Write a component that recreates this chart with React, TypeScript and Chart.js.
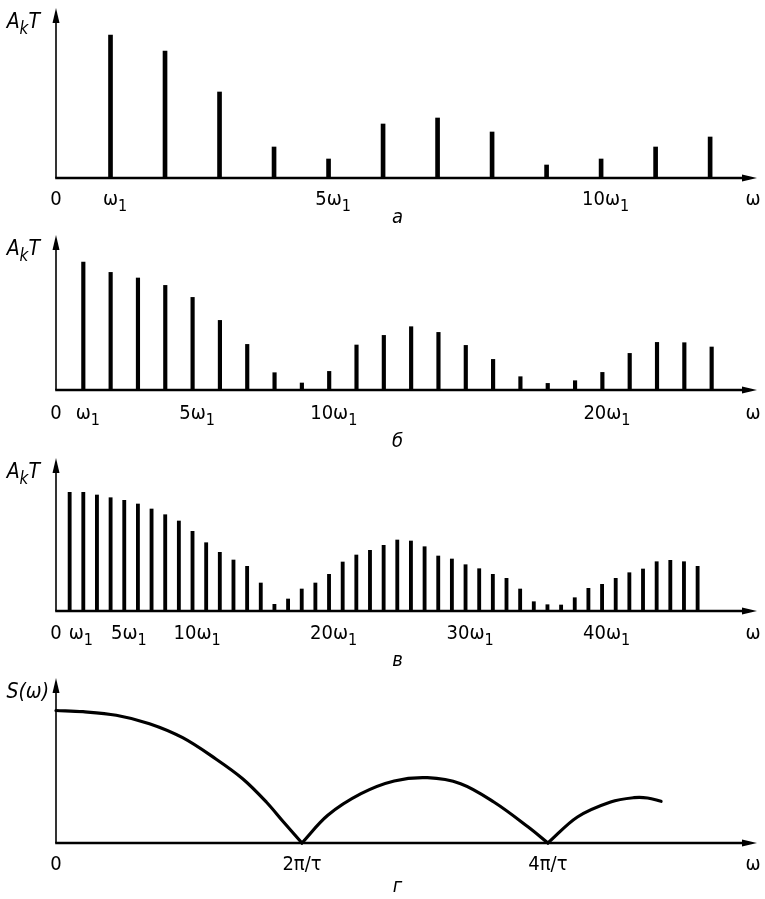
import React, { useEffect, useRef } from 'react';
import { Chart, registerables } from 'chart.js';

Chart.register(...registerables);

// ---------- Data ----------
// Panel а
const harmonicsA = [1, 2, 3, 4, 5, 6, 7, 8, 9, 10, 11, 12];
const amplitudesA = [143, 127, 86, 31, 19, 54, 60, 46, 13, 19, 31, 41];
const tickValuesA = [0, 1, 5, 10];
const tickLabelsA = ['0', 'ω_1', '5ω_1', '10ω_1'];

// Panel б
const harmonicsB = [1, 2, 3, 4, 5, 6, 7, 8, 9, 10, 11, 12, 13, 14, 15, 16, 17, 18, 19, 20, 21, 22, 23, 24];
const amplitudesB = [128, 117.6, 112, 104.6, 92.6, 69.6, 45.6, 17.3, 7, 18.6, 45, 54.6, 63.3, 57.6, 44.6, 30.6, 13.3, 6.6, 9.3, 17.6, 36.6, 47.6, 47.3, 43];
const tickValuesB = [0, 1, 5, 10, 20];
const tickLabelsB = ['0', 'ω_1', '5ω_1', '10ω_1', '20ω_1'];

// Panel в
const harmonicsC = [
  1, 2, 3, 4, 5, 6, 7, 8, 9, 10, 11, 12, 13, 14, 15, 16, 17, 18, 19, 20, 21, 22, 23, 24,
  25, 26, 27, 28, 29, 30, 31, 32, 33, 34, 35, 36, 37, 38, 39, 40, 41, 42, 43, 44, 45, 46, 47,
];
const amplitudesC = [
  118.7, 118.7, 116, 113.3, 110.7, 107, 102, 96.3, 90, 79.7, 68.3, 58.7, 51, 44.7, 28, 6.7,
  12, 22, 28, 36.7, 49, 56, 60.7, 65.7, 71, 70, 64.3, 55, 52, 46.3, 42.3, 36.7, 32.7, 22, 9.3,
  6.3, 6, 13.3, 22.7, 26.7, 32.7, 38.3, 42, 49.3, 50.7, 49.3, 44.7,
];
const tickValuesC = [0, 1, 5, 10, 20, 30, 40];
const tickLabelsC = ['0', 'ω_1', '5ω_1', '10ω_1', '20ω_1', '30ω_1', '40ω_1'];

// Panel г  (ω in units where 2π/τ = 2)
const lobe1X = [0, 0.22, 0.49, 0.76, 1.03, 1.3, 1.52, 1.71, 1.85, 2];
const lobe1Y = [132.5, 131.3, 127.7, 119.3, 105.3, 84, 64, 41, 21, 0];
const lobe2X = [2, 2.21, 2.48, 2.75, 3.02, 3.29, 3.56, 3.84, 4];
const lobe2Y = [0, 27.7, 49.3, 62, 65.3, 59.3, 41, 16, 0];
const lobe3X = [4, 4.24, 4.51, 4.7, 4.81, 4.92];
const lobe3Y = [0, 26, 41, 45.3, 45, 41.7];
const tickValuesD = [0, 2, 4];
const tickLabelsD = ['0', '2π/τ', '4π/τ'];

// ---------- Rendering helpers ----------
const FONT = "'DejaVu Sans Condensed', 'Liberation Sans Narrow', 'DejaVu Sans', sans-serif";

type Seg = { t: string; sub: boolean };
function parseRich(text: string): Seg[] {
  const out: Seg[] = [];
  let buf = '';
  for (let i = 0; i < text.length; i++) {
    if (text[i] === '_' && i + 1 < text.length) {
      if (buf) out.push({ t: buf, sub: false });
      buf = '';
      out.push({ t: text[i + 1], sub: true });
      i++;
    } else buf += text[i];
  }
  if (buf) out.push({ t: buf, sub: false });
  return out;
}

function measureRich(ctx: CanvasRenderingContext2D, text: string, size: number, italic: boolean) {
  const segs = parseRich(text);
  const subSize = Math.round(size * 0.8);
  const fontFor = (sub: boolean) => `${italic ? 'italic ' : ''}${sub ? subSize : size}px ${FONT}`;
  const widths = segs.map((s) => {
    ctx.font = fontFor(s.sub);
    return ctx.measureText(s.t).width;
  });
  const total = widths.reduce((a, b) => a + b, 0);
  const main = widths.reduce((a, b, i) => a + (segs[i].sub ? 0 : b), 0);
  return { segs, widths, total, main, fontFor };
}

// draws rich text starting at x0 (left edge)
function drawRichAt(
  ctx: CanvasRenderingContext2D,
  text: string,
  x0: number,
  y: number,
  size: number,
  italic: boolean
) {
  const m = measureRich(ctx, text, size, italic);
  ctx.textAlign = 'left';
  ctx.textBaseline = 'alphabetic';
  let x = x0;
  m.segs.forEach((s, i) => {
    ctx.font = m.fontFor(s.sub);
    ctx.fillText(s.t, x, y + (s.sub ? size * 0.3 : 0));
    x += m.widths[i];
  });
}

const decorPlugin = {
  id: 'decor',
  afterDatasetsDraw(chart: any, _args: any, opts: any) {
    const { ctx } = chart;
    const { left, right, top, bottom } = chart.chartArea;
    const xs = chart.scales.x;
    ctx.save();
    ctx.fillStyle = '#000';
    ctx.strokeStyle = '#000';
    // y axis with arrow
    ctx.lineWidth = 1.6;
    ctx.beginPath();
    ctx.moveTo(left, bottom);
    ctx.lineTo(left, top + 8);
    ctx.stroke();
    ctx.beginPath();
    ctx.moveTo(left, top);
    ctx.lineTo(left - 3.5, top + 15);
    ctx.lineTo(left + 3.5, top + 15);
    ctx.closePath();
    ctx.fill();
    // x axis with arrow
    ctx.lineWidth = 2.6;
    ctx.beginPath();
    ctx.moveTo(left - 0.8, bottom);
    ctx.lineTo(right - 8, bottom);
    ctx.stroke();
    ctx.beginPath();
    ctx.moveTo(right, bottom);
    ctx.lineTo(right - 15, bottom - 3.5);
    ctx.lineTo(right - 15, bottom + 3.5);
    ctx.closePath();
    ctx.fill();
    // tick labels: main part centred on the tick, subscript trailing;
    // shift right if it would collide with the previous label
    const SIZE = 20;
    const vals: number[] = opts.tickValues;
    const labs: string[] = opts.tickLabels;
    let prevRight = -Infinity;
    vals.forEach((v, i) => {
      const m = measureRich(ctx, labs[i], SIZE, false);
      let x0 = xs.getPixelForValue(v) - m.main / 2;
      if (x0 < prevRight + 7) x0 = prevRight + 7;
      drawRichAt(ctx, labs[i], x0, bottom + opts.labelDy, SIZE, false);
      prevRight = x0 + m.total;
    });
    const mw = measureRich(ctx, 'ω', SIZE, false);
    drawRichAt(ctx, 'ω', xs.getPixelForValue(xs.max) - 4 - mw.total / 2, bottom + opts.labelDy, SIZE, false);
    // y title (right-aligned to the left of the axis)
    const mt = measureRich(ctx, opts.yTitle, 21, true);
    drawRichAt(ctx, opts.yTitle, left - opts.yTitleGap - mt.total, top + 20, 21, true);
    // caption
    const mc = measureRich(ctx, opts.caption, 20, true);
    drawRichAt(ctx, opts.caption, (left + right) / 2 - 9 - mc.total / 2, bottom + opts.captionDy, 20, true);
    ctx.restore();
  },
};

type PanelCfg = {
  top: number;
  height: number;
  padTop: number;
  padBottom: number;
  xMax: number;
  yMax: number;
  kind: 'bar' | 'curve';
  barThickness?: number;
  xs?: number[];
  ys?: number[];
  tickValues: number[];
  tickLabels: string[];
  yTitle: string;
  yTitleGap: number;
  caption: string;
  labelDy: number;
  captionDy: number;
};

const WIDTH = 765;

function Panel({ cfg }: { cfg: PanelCfg }) {
  const ref = useRef<HTMLCanvasElement | null>(null);
  useEffect(() => {
    if (!ref.current) return;
    let datasets: any[];
    if (cfg.kind === 'bar') {
      datasets = [
        {
          data: (cfg.xs || []).map((x, i) => ({ x, y: (cfg.ys || [])[i] })),
          backgroundColor: '#000',
          borderWidth: 0,
          barThickness: cfg.barThickness,
        },
      ];
    } else {
      const lobes: [number[], number[]][] = [
        [lobe1X, lobe1Y],
        [lobe2X, lobe2Y],
        [lobe3X, lobe3Y],
      ];
      datasets = lobes.map(([lx, ly]) => ({
        type: 'line',
        data: lx.map((x, i) => ({ x, y: ly[i] })),
        borderColor: '#000',
        borderWidth: 3.2,
        pointRadius: 0,
        tension: 0.35,
        fill: false,
        clip: false,
        borderCapStyle: 'round',
      }));
    }
    const chart = new Chart(ref.current, {
      type: cfg.kind === 'bar' ? 'bar' : 'line',
      data: { datasets },
      options: {
        animation: false,
        responsive: false,
        events: [],
        layout: { padding: { left: 56, right: 8, top: cfg.padTop, bottom: cfg.padBottom } },
        scales: {
          x: { type: 'linear', min: 0, max: cfg.xMax, offset: false, display: false },
          y: { type: 'linear', min: 0, max: cfg.yMax, display: false },
        },
        plugins: {
          legend: { display: false },
          tooltip: { enabled: false },
          decor: {
            tickValues: cfg.tickValues,
            tickLabels: cfg.tickLabels,
            yTitle: cfg.yTitle,
            yTitleGap: cfg.yTitleGap,
            caption: cfg.caption,
            labelDy: cfg.labelDy,
            captionDy: cfg.captionDy,
          },
        } as any,
      },
      plugins: [decorPlugin as any],
    } as any);
    return () => chart.destroy();
  }, [cfg]);
  return (
    <canvas
      ref={ref}
      width={WIDTH}
      height={cfg.height}
      style={{ position: 'absolute', left: 0, top: cfg.top, width: WIDTH, height: cfg.height }}
    />
  );
}

const panels: PanelCfg[] = [
  {
    top: 0, height: 230, padTop: 8, padBottom: 52, xMax: 12.86, yMax: 170, kind: 'bar', barThickness: 4,
    xs: harmonicsA, ys: amplitudesA, tickValues: tickValuesA, tickLabels: tickLabelsA,
    yTitle: 'A_kT', yTitleGap: 16, caption: 'а', labelDy: 27, captionDy: 45,
  },
  {
    top: 230, height: 220, padTop: 5, padBottom: 60, xMax: 25.66, yMax: 155, kind: 'bar', barThickness: 3.5,
    xs: harmonicsB, ys: amplitudesB, tickValues: tickValuesB, tickLabels: tickLabelsB,
    yTitle: 'A_kT', yTitleGap: 16, caption: 'б', labelDy: 28.5, captionDy: 57,
  },
  {
    top: 450, height: 220, padTop: 8, padBottom: 59, xMax: 51.35, yMax: 153, kind: 'bar', barThickness: 3.2,
    xs: harmonicsC, ys: amplitudesC, tickValues: tickValuesC, tickLabels: tickLabelsC,
    yTitle: 'A_kT', yTitleGap: 16, caption: 'в', labelDy: 28, captionDy: 55,
  },
  {
    top: 670, height: 229, padTop: 8, padBottom: 56, xMax: 5.7, yMax: 165, kind: 'curve',
    tickValues: tickValuesD, tickLabels: tickLabelsD,
    yTitle: 'S(ω)', yTitleGap: 7, caption: 'г', labelDy: 27, captionDy: 49,
  },
];

export default function App() {
  return (
    <div style={{ position: 'absolute', left: 0, top: 0, width: WIDTH, height: 899, background: '#fff' }}>
      {panels.map((p, i) => (
        <Panel key={i} cfg={p} />
      ))}
    </div>
  );
}
